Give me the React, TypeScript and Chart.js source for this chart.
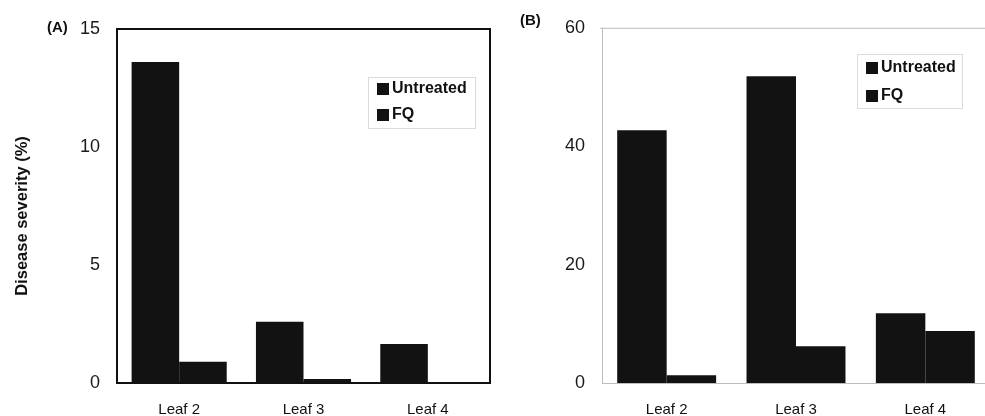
import React, { useEffect, useRef } from "react";
import { Chart, registerables } from "chart.js";

Chart.register(...registerables);

const categories = ["Leaf 2", "Leaf 3", "Leaf 4"];
const seriesNames = ["Untreated", "FQ"];
const panelAUntreated = [13.6, 2.6, 1.65];
const panelAFQ = [0.9, 0.17, 0.04];
const panelBUntreated = [42.7, 51.8, 11.8];
const panelBFQ = [1.3, 6.2, 8.8];
const panelAYTicks = [0, 5, 10, 15];
const panelBYTicks = [0, 20, 40, 60];
const yTitle = "Disease severity (%)";

const FONT = '"Liberation Sans", Arial, Helvetica, sans-serif';
const BAR = "#121212";

const decorPlugin = {
  id: "decor",
  afterDraw(chart: any, _args: any, opts: any) {
    const { ctx, chartArea: a } = chart;
    ctx.save();
    if (opts.frame === "box") {
      ctx.strokeStyle = "#111";
      ctx.lineWidth = 2;
      ctx.strokeRect(a.left, a.top, a.right - a.left, a.bottom - a.top);
    } else {
      ctx.strokeStyle = "#bdbdbd";
      ctx.lineWidth = 1;
      ctx.beginPath();
      ctx.moveTo(a.left - 2, a.top + 0.5);
      ctx.lineTo(a.right, a.top + 0.5);
      ctx.moveTo(a.left + 0.5, a.top);
      ctx.lineTo(a.left + 0.5, a.bottom);
      ctx.moveTo(a.left, a.bottom + 0.5);
      ctx.lineTo(a.right, a.bottom + 0.5);
      ctx.stroke();
    }
    // panel label
    ctx.fillStyle = "#111";
    ctx.font = `bold 15px ${FONT}`;
    ctx.textAlign = "left";
    ctx.textBaseline = "middle";
    ctx.fillText(opts.label, opts.labelX, opts.labelY);
    // y title
    if (opts.yTitle) {
      ctx.save();
      ctx.translate(opts.yTitleX, opts.yTitleY);
      ctx.rotate(-Math.PI / 2);
      ctx.textAlign = "center";
      ctx.font = `bold 16.5px ${FONT}`;
      ctx.fillText(opts.yTitle, 0, 0);
      ctx.restore();
    }
    // legend
    const lg = opts.legend;
    ctx.fillStyle = "rgba(255,255,255,0.9)";
    ctx.fillRect(lg.x, lg.y, lg.w, lg.h);
    ctx.strokeStyle = "#dcdcdc";
    ctx.lineWidth = 1;
    ctx.strokeRect(lg.x + 0.5, lg.y + 0.5, lg.w, lg.h);
    ctx.font = `bold 16px ${FONT}`;
    ctx.textAlign = "left";
    ctx.textBaseline = "middle";
    chart.data.datasets.forEach((ds: any, i: number) => {
      const cy = lg.y + lg.first + i * lg.step;
      ctx.fillStyle = ds.backgroundColor;
      ctx.fillRect(lg.x + 9, cy - 6, 12, 12);
      ctx.fillStyle = "#111";
      ctx.fillText(ds.label, lg.x + 24, cy);
    });
    ctx.restore();
  },
};

function makeConfig(
  untreated: number[],
  fq: number[],
  yTicks: number[],
  yWidth: number,
  padTop: number,
  padRight: number,
  decor: any
): any {
  return {
    type: "bar",
    data: {
      labels: categories,
      datasets: [
        { label: seriesNames[0], data: untreated, backgroundColor: BAR, borderWidth: 0 },
        { label: seriesNames[1], data: fq, backgroundColor: BAR, borderWidth: 0 },
      ],
    },
    options: {
      responsive: false,
      animation: false,
      devicePixelRatio: 1,
      layout: { padding: { top: padTop, right: padRight, left: 0, bottom: 0 } },
      datasets: { bar: { categoryPercentage: 0.765, barPercentage: 1 } },
      plugins: {
        legend: { display: false },
        tooltip: { enabled: false },
        decor,
      },
      scales: {
        x: {
          grid: { display: false, drawTicks: false },
          border: { display: false },
          ticks: { color: "#111", padding: 18, font: { family: FONT, size: 15 } },
          afterFit: (s: any) => {
            s.height = 33;
          },
        },
        y: {
          min: yTicks[0],
          max: yTicks[yTicks.length - 1],
          grid: { display: false, drawTicks: false },
          border: { display: false },
          ticks: {
            stepSize: yTicks[1] - yTicks[0],
            color: "#1a1a1a",
            padding: 17,
            font: { family: FONT, size: 18 },
          },
          afterFit: (s: any) => {
            s.width = yWidth;
          },
        },
      },
    },
    plugins: [decorPlugin],
  };
}

function Panel({ left, width, config }: { left: number; width: number; config: () => any }) {
  const ref = useRef<HTMLCanvasElement>(null);
  useEffect(() => {
    const chart = new Chart(ref.current as HTMLCanvasElement, config());
    return () => chart.destroy();
  }, []);
  return (
    <canvas
      ref={ref}
      width={width}
      height={416}
      style={{ position: "absolute", left, top: 0, width, height: 416 }}
    />
  );
}

export default function App() {
  return (
    <div
      style={{
        position: "fixed",
        left: 0,
        top: 0,
        width: 985,
        height: 416,
        overflow: "hidden",
        background: "#fff",
      }}
    >
      <Panel
        left={0}
        width={500}
        config={() =>
          makeConfig(panelAUntreated, panelAFQ, panelAYTicks, 117, 29, 10, {
            frame: "box",
            label: "(A)",
            labelX: 47,
            labelY: 28,
            yTitle,
            yTitleX: 22,
            yTitleY: 216,
            legend: { x: 368, y: 77, w: 107, h: 51, first: 12, step: 26 },
          })
        }
      />
      <Panel
        left={500}
        width={490}
        config={() =>
          makeConfig(panelBUntreated, panelBFQ, panelBYTicks, 102, 22, 0, {
            frame: "axes",
            label: "(B)",
            labelX: 20,
            labelY: 21,
            yTitle: "",
            legend: { x: 357, y: 54, w: 105, h: 54, first: 14, step: 28 },
          })
        }
      />
    </div>
  );
}
